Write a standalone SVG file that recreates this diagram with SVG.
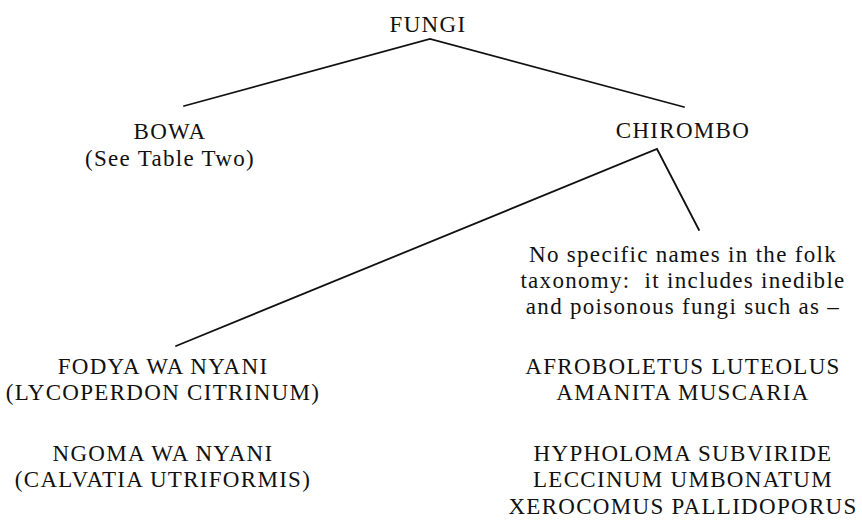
<svg xmlns="http://www.w3.org/2000/svg" width="862" height="521" viewBox="0 0 862 521">
<style>
text{font-family:"Liberation Serif","Times New Roman",serif;font-size:23px;fill:#111;text-anchor:middle;letter-spacing:1.3px;white-space:pre}
.c{stroke:#111;stroke-width:1.8;fill:none;stroke-linecap:round;stroke-linejoin:miter}
</style>
<rect width="862" height="521" fill="#fff"/>
<g id="connectors">
<polyline class="c" points="184,106 430,39 684,107"/>
<polyline class="c" points="176,346 657,149 699,230"/>
</g>
<g id="fungi"><text x="428" y="32">FUNGI</text></g>
<g id="bowa"><text x="170" y="139">BOWA</text><text x="170" y="166">(See Table Two)</text></g>
<g id="chirombo"><text x="683" y="138">CHIROMBO</text></g>
<g id="note"><text x="683" y="262">No specific names in the folk</text><text x="683" y="288" xml:space="preserve">taxonomy:  it includes inedible</text><text x="683" y="314">and poisonous fungi such as –</text></g>
<g id="fodya"><text x="163" y="374">FODYA WA NYANI</text><text x="163" y="400">(LYCOPERDON CITRINUM)</text></g>
<g id="ngoma"><text x="163" y="461">NGOMA WA NYANI</text><text x="163" y="487">(CALVATIA UTRIFORMIS)</text></g>
<g id="species1"><text x="683" y="374">AFROBOLETUS LUTEOLUS</text><text x="683" y="400">AMANITA MUSCARIA</text></g>
<g id="species2"><text x="683" y="461">HYPHOLOMA SUBVIRIDE</text><text x="683" y="487">LECCINUM UMBONATUM</text><text x="683" y="514">XEROCOMUS PALLIDOPORUS</text></g>
</svg>
